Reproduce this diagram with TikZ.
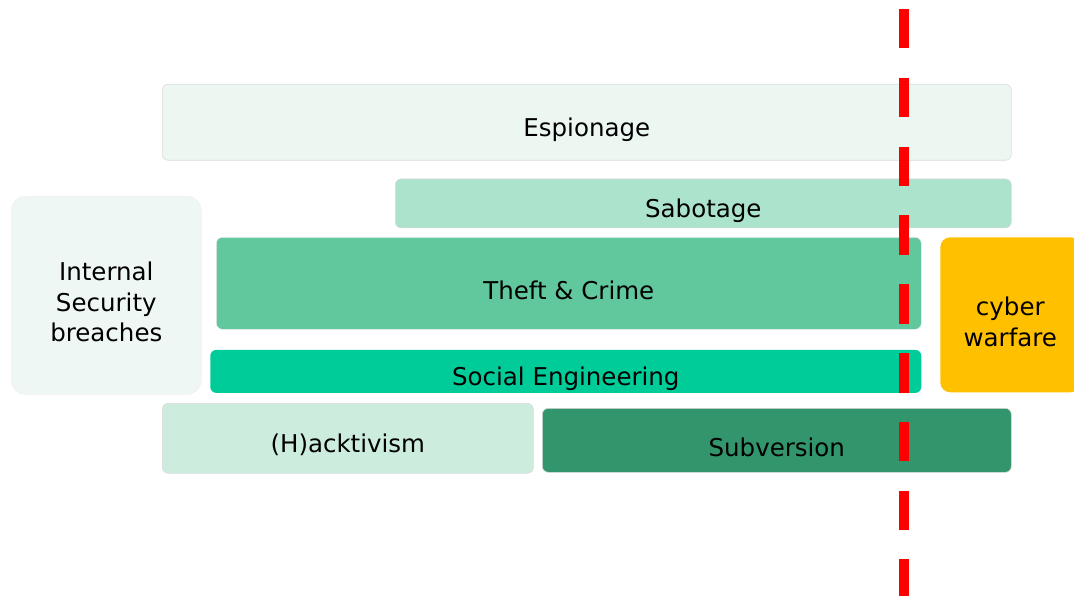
\documentclass[tikz,border=0pt]{standalone}
\usepackage{fontspec}
\setmainfont{DejaVu Sans}
\usetikzlibrary{positioning}
\definecolor{espC}{HTML}{EDF7F2}
\definecolor{sabC}{HTML}{ABE3CC}
\definecolor{isbC}{HTML}{EEF7F3}
\definecolor{theftC}{HTML}{60C89C}
\definecolor{socC}{HTML}{00CC99}
\definecolor{hackC}{HTML}{CCEDDE}
\definecolor{subvC}{HTML}{33956C}
\definecolor{cyberC}{HTML}{FFC000}
\tikzstyle{bar} = [rectangle, rounded corners=6pt, draw=black!14, line width=0.6pt, anchor=north west, inner sep=0pt]
\tikzstyle{cut} = [draw=red, line width=10pt, dash pattern=on 39.5pt off 29.3pt]

\begin{document}
\begin{tikzpicture}[x=1pt, y=-1pt, txt/.style={yshift=-7pt, align=center, font=\fontsize{24.5}{30.5}\selectfont}]
\useasboundingbox (0,0) rectangle (1074,596);

% Define nodes
\node[bar, fill=espC, minimum width=849pt, minimum height=76pt, label={[txt]center:Espionage}]  (esp) at (162,84) {};
\node[bar, fill=sabC, minimum width=616pt, minimum height=49pt, below=18pt of esp.south east, anchor=north east, label={[txt]center:Sabotage}] (sab) {};
\node[bar, fill=isbC, rounded corners=14pt, draw=black!5, minimum width=190pt, minimum height=198pt, label={[txt]center:Internal\\Security\\breaches}] (isb) at (11,196) {};
\node[bar, fill=theftC, draw=black!8, minimum width=705pt, minimum height=92pt, label={[txt]center:Theft \& Crime}] (theft) at (216,237) {};
\node[bar, fill=socC, draw=none, minimum width=711pt, minimum height=43pt, below=20pt of theft.south east, anchor=north east, label={[txt]center:Social Engineering}] (soc) {};
\node[bar, fill=hackC, minimum width=371pt, minimum height=70pt, label={[txt]center:(H)acktivism}] (hack) at (162,403) {};
\node[bar, fill=subvC, minimum width=469pt, minimum height=64pt, label={[txt]center:Subversion}] (subv) at (542,408) {};
\node[bar, fill=cyberC, draw=none, rounded corners=10pt, minimum width=140pt, minimum height=155pt, label={[txt]center:cyber\\warfare}] (cyber) at (940,237) {};

% Cut line
\coordinate (cutTop) at (904,9);
\coordinate (cutBot) at (904,596);
\draw[cut] (cutTop) -- (cutBot);

\end{tikzpicture}
\end{document}
